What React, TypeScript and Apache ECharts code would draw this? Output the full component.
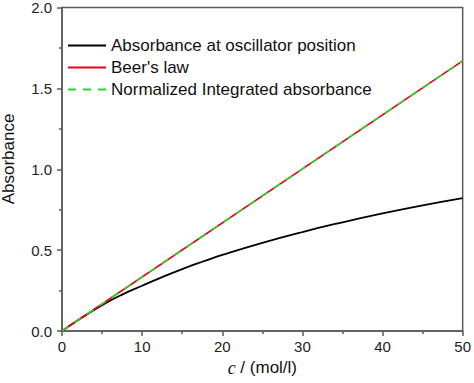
import React, { useEffect, useRef } from "react";
import * as echarts from "echarts";

const concentration = [0, 2.5, 5, 7.5, 10, 12.5, 15, 17.5, 20, 25, 30, 35, 40, 45, 50];
const oscillatorAbs = [0, 0.083, 0.16, 0.225, 0.28, 0.333, 0.383, 0.428, 0.47, 0.545, 0.612, 0.672, 0.727, 0.777, 0.822];
const beerC = [0, 50];
const beerAbs = [0, 1.67];
const integratedC = [0, 50];
const integratedAbs = [0, 1.67];
const seriesNames = ["Absorbance at oscillator position", "Beer's law", "Normalized Integrated absorbance"];

const FONT = "'Liberation Sans', Arial, sans-serif";

export default function App() {
  const ref = useRef<HTMLDivElement>(null);
  useEffect(() => {
    if (!ref.current) return;
    const chart = echarts.init(ref.current, null, { renderer: "svg" });
    const axisColor = "#5a5a5a";
    chart.setOption({
      animation: false,
      backgroundColor: "#fff",
      grid: {
        left: 62, right: 9, top: 6, bottom: 52,
        show: true, borderColor: axisColor, borderWidth: 1.5, backgroundColor: "transparent",
      },
      legend: {
        orient: "vertical",
        left: 67, top: 37, padding: 0,
        itemWidth: 38, itemHeight: 14, itemGap: 5,
        data: seriesNames,
        itemStyle: { opacity: 0 },
        textStyle: { fontFamily: FONT, fontSize: 17, lineHeight: 17, color: "#111" },
      },
      xAxis: {
        type: "value", min: 0, max: 50, interval: 10,
        name: "{i|c} / (mol/l)",
        nameLocation: "middle", nameGap: 27,
        nameTextStyle: {
          fontFamily: FONT, fontSize: 17, color: "#111",
          rich: { i: { fontFamily: "'Liberation Serif', 'Times New Roman', serif", fontStyle: "italic", fontSize: 18, color: "#111" } },
        },
        axisLine: { show: true, lineStyle: { color: axisColor, width: 1.5 } },
        axisTick: { show: true, inside: false, length: 5, lineStyle: { color: axisColor, width: 1.5 } },
        minorTick: { show: true, splitNumber: 2, length: 3, lineStyle: { color: axisColor, width: 1.5 } },
        axisLabel: { fontFamily: FONT, fontSize: 15, color: "#222", margin: 8 },
        splitLine: { show: false },
      },
      yAxis: {
        type: "value", min: 0, max: 2, interval: 0.5,
        axisLine: { show: true, lineStyle: { color: axisColor, width: 1.5 } },
        axisTick: { show: true, inside: false, length: 5, lineStyle: { color: axisColor, width: 1.5 } },
        minorTick: { show: true, splitNumber: 2, length: 3, lineStyle: { color: axisColor, width: 1.5 } },
        axisLabel: { fontFamily: FONT, fontSize: 15, color: "#222", margin: 10, formatter: (v: number) => v.toFixed(1) },
        splitLine: { show: false },
      },
      graphic: [
        {
          type: "text", x: 8.5, y: 159, rotation: Math.PI / 2,
          style: { text: "Absorbance", fontFamily: FONT, fontSize: 17, fill: "#111", align: "center", verticalAlign: "middle" },
        },
      ],
      series: [
        {
          name: seriesNames[0], type: "line", smooth: true, symbol: "none",
          data: concentration.map((c, i) => [c, oscillatorAbs[i]]),
          lineStyle: { color: "#000", width: 1.8 }, itemStyle: { color: "#000" },
        },
        {
          name: seriesNames[1], type: "line", symbol: "none",
          data: beerC.map((c, i) => [c, beerAbs[i]]),
          lineStyle: { color: "#e3001b", width: 1.6 }, itemStyle: { color: "#e3001b" },
        },
        {
          name: seriesNames[2], type: "line", symbol: "none",
          data: integratedC.map((c, i) => [c, integratedAbs[i]]),
          lineStyle: { color: "#22dd22", width: 1.6, type: [8, 7] }, itemStyle: { color: "#22dd22" },
        },
      ],
    });
    return () => chart.dispose();
  }, []);
  return <div ref={ref} style={{ width: 474, height: 383, position: "absolute", left: 0, top: 0 }} />;
}
